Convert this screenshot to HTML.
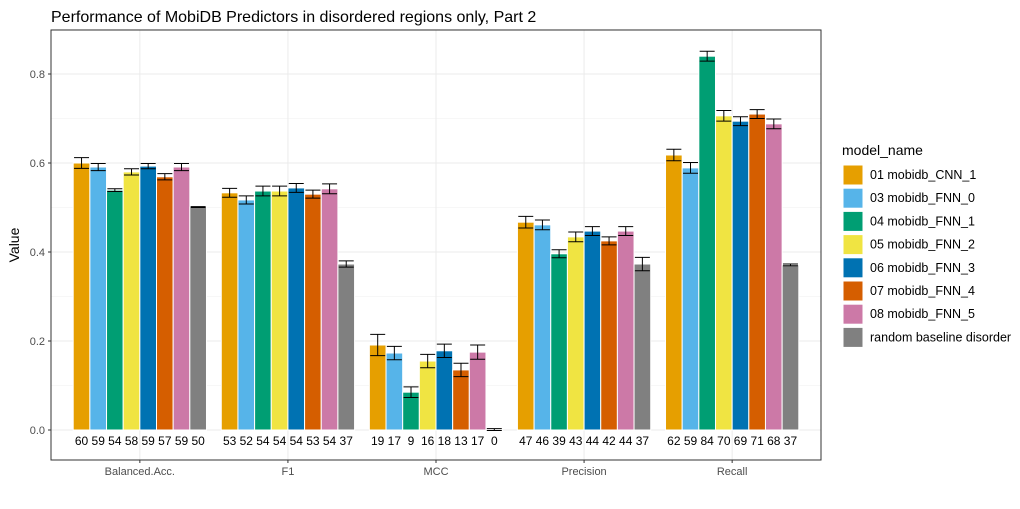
<!DOCTYPE html>
<html><head><meta charset="utf-8"><style>
body{margin:0;background:#fff;font-family:"Liberation Sans",Arial,sans-serif}
svg text{font-family:"Liberation Sans",Arial,sans-serif}
</style></head><body>
<svg id="chart" width="1020" height="504"></svg>
<script>
const metrics=["Balanced.Acc.","F1","MCC","Precision","Recall"];
const models=["01 mobidb_CNN_1","03 mobidb_FNN_0","04 mobidb_FNN_1","05 mobidb_FNN_2","06 mobidb_FNN_3","07 mobidb_FNN_4","08 mobidb_FNN_5","random baseline disorder"];
const colors=["#E69F00","#56B4E9","#009E73","#F0E442","#0072B2","#D55E00","#CC79A7","#808080"];
const balVals=[0.600,0.591,0.539,0.580,0.593,0.569,0.591,0.501];
const f1Vals=[0.533,0.517,0.537,0.537,0.544,0.530,0.542,0.373];
const mccVals=[0.191,0.173,0.085,0.155,0.178,0.135,0.175,0.001];
const precVals=[0.467,0.461,0.396,0.434,0.447,0.425,0.447,0.373];
const recVals=[0.618,0.589,0.840,0.706,0.694,0.710,0.688,0.371];
const balErr=[0.012,0.008,0.003,0.007,0.006,0.007,0.008,0.001];
const f1Err=[0.010,0.009,0.011,0.011,0.010,0.009,0.011,0.007];
const mccErr=[0.024,0.015,0.012,0.015,0.015,0.015,0.016,0.002];
const precErr=[0.013,0.011,0.009,0.011,0.010,0.009,0.010,0.015];
const recErr=[0.013,0.012,0.011,0.012,0.010,0.010,0.011,0.002];
const balLbl=["60","59","54","58","59","57","59","50"];
const f1Lbl=["53","52","54","54","54","53","54","37"];
const mccLbl=["19","17","9","16","18","13","17","0"];
const precLbl=["47","46","39","43","44","42","44","37"];
const recLbl=["62","59","84","70","69","71","68","37"];
const yTicks=[0,0.2,0.4,0.6,0.8];
const yTickLabels=["0.0","0.2","0.4","0.6","0.8"];

const vals=[balVals,f1Vals,mccVals,precVals,recVals];
const errs=[balErr,f1Err,mccErr,precErr,recErr];
const lbls=[balLbl,f1Lbl,mccLbl,precLbl,recLbl];
const L=51,R=821,T=30,B=460;
const y=v=>430-v*445;
const step=(R-L)/5.2;
const xc=i=>L+(i+0.6)*step;
const bw=step*0.9/8;
const NS="http://www.w3.org/2000/svg";
const svg=document.getElementById('chart');
function mk(tag,a,txt){const e=document.createElementNS(NS,tag);for(const k in a)e.setAttribute(k,a[k]);if(txt!==undefined)e.textContent=txt;svg.appendChild(e);return e;}
let e;
e=mk('text',{x:L,y:22,'font-size':16,fill:'#000'},"Performance of MobiDB Predictors in disordered regions only, Part 2");


for(let v=0.1;v<0.95;v+=0.2){e=mk('line',{x1:L,x2:R,y1:y(v),y2:y(v),stroke:'#f0f0f0','stroke-width':0.6});

}
yTicks.forEach((v,i)=>{e=mk('line',{x1:L,x2:R,y1:y(v),y2:y(v),stroke:'#ebebeb','stroke-width':1});


mk('line',{x1:L-3,x2:L,y1:y(v),y2:y(v),stroke:'#333'});
e=mk('text',{x:L-6,y:y(v)+4,'font-size':11,fill:'#4d4d4d','text-anchor':'end'},yTickLabels[i]);

});
metrics.forEach((m,i)=>{e=mk('line',{x1:xc(i),x2:xc(i),y1:T,y2:B,stroke:'#ebebeb'});

});
metrics.forEach((m,i)=>{
 const g0=xc(i)-step*0.45;
 vals[i].forEach((v,j)=>{
  const x0=g0+j*bw;
  e=mk('rect',{x:x0,y:y(v),width:bw,height:y(0)-y(v),fill:colors[j],stroke:'#fff','stroke-width':1});
  
  
  const er=errs[i][j],cx=x0+bw/2,hw=bw*0.45;
  e=mk('path',{d:`M${cx-hw},${y(v+er)}H${cx+hw}M${cx},${y(v+er)}V${y(v-er)}M${cx-hw},${y(v-er)}H${cx+hw}`,stroke:'#000',fill:'none','stroke-width':1});
  
  
  e=mk('text',{x:cx,y:445,'font-size':12,fill:'#000','text-anchor':'middle'},lbls[i][j]);
  
  
 });
 mk('line',{x1:xc(i),x2:xc(i),y1:B,y2:B+3,stroke:'#333'});
 e=mk('text',{x:xc(i),y:475,'font-size':11,fill:'#4d4d4d','text-anchor':'middle'},m);
 
 
});
e=mk('rect',{x:L,y:T,width:R-L,height:B-T,fill:'none',stroke:'#333','stroke-width':1});


e=mk('text',{x:19,y:245,'font-size':14,fill:'#000','text-anchor':'middle',transform:'rotate(-90 19 245)'},"Value");


e=mk('text',{x:842,y:155,'font-size':14,fill:'#000'},"model_name");


models.forEach((m,j)=>{
 const yy=165+j*23.2;
 e=mk('rect',{x:843,y:yy,width:20,height:20,fill:colors[j],stroke:'#fff'});
 
 
 e=mk('text',{x:870,y:yy+14,'font-size':12.5,fill:'#000'},m);
 
 
});
</script>
</body></html>
